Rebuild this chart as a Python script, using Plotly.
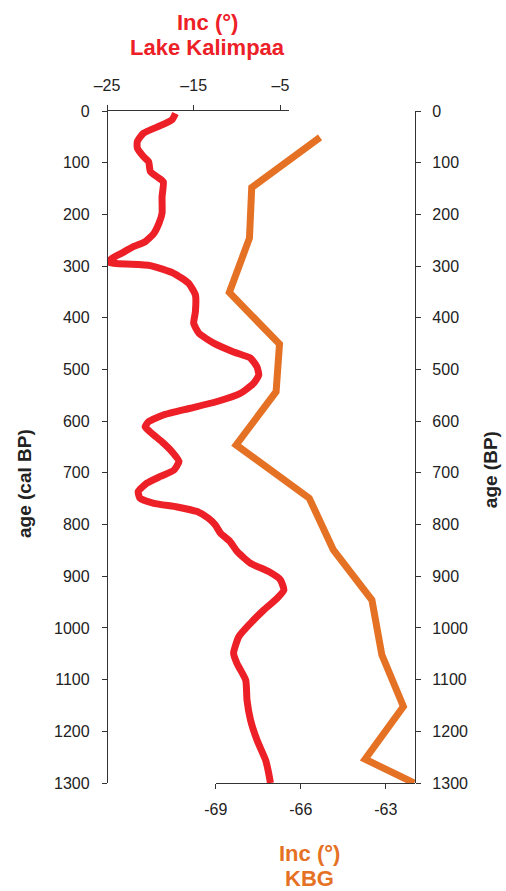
import plotly.graph_objects as go

# Lake Kalimpaa inclination (top axis) vs age (cal BP)
kal_age = [5, 17, 27, 43, 59, 72, 88, 98, 117, 130, 137, 166, 198, 217, 237, 253, 262, 275, 285, 293,
           299, 314, 333, 356, 388, 411, 430, 449, 466, 478, 495, 511, 527, 546, 562, 575, 588, 601,
           611, 624, 640, 659, 678, 695, 707, 720, 736, 749, 759, 766, 775, 788, 801, 817, 833, 852,
           875, 891, 907, 927, 943, 965, 991, 1017, 1049, 1069, 1101, 1140, 1178, 1217, 1256, 1281, 1300]
kal_inc = [-17.1, -17.5, -18.65, -20.8, -21.5, -21.5, -20.8, -20.2, -20.0, -19.0, -18.5, -18.65, -18.65,
           -19.0, -19.6, -20.6, -21.9, -23.3, -24.4, -24.8,
           -20.0, -17.3, -15.6, -14.8, -14.8, -15.0, -14.4, -12.7, -10.4, -8.45, -7.7, -7.5, -8.1, -9.6,
           -12.3, -15.4, -18.5, -20.2, -20.6, -19.8, -18.65, -17.5, -16.7, -17.3, -18.85, -20.4, -21.4,
           -21.2, -19.6, -16.9, -14.6, -13.3, -12.5, -11.9, -10.8, -10.0, -8.45, -6.35, -5.0, -4.6, -5.4,
           -6.9, -8.45, -9.8, -10.4, -10.0, -9.0, -8.85, -8.45, -7.7, -6.7, -6.35, -6.15]

# KBG inclination (bottom axis) vs age (BP)
kbg_age = [51, 148, 246, 351, 451, 543, 646, 749, 849, 946, 1052, 1152, 1254, 1300]
kbg_inc = [-65.32, -67.73, -67.81, -68.52, -66.75, -66.87, -68.28, -65.70, -64.85, -63.49, -63.14,
           -62.38, -63.73, -62.0]

age_ticks = list(range(0, 1301, 100))
top_tickvals = [-25, -15, -5]
top_ticktext = ["\u201325", "\u201315", "\u20135"]
bot_tickvals = [-69, -66, -63]
bot_ticktext = ["-69", "-66", "-63"]

assert len(kal_age) == len(kal_inc)
assert len(kbg_age) == len(kbg_inc)

RED = "#ED2027"
ORANGE = "#E57124"
AX = "#333333"
FONT = "Liberation Sans, Arial, sans-serif"

fig = go.Figure()
fig.add_trace(go.Scatter(x=kbg_inc, y=kbg_age, mode="lines", xaxis="x", yaxis="y2",
                         line=dict(color=ORANGE, width=7),
                         showlegend=False, hoverinfo="skip"))
fig.add_trace(go.Scatter(x=kal_inc, y=kal_age, mode="lines", xaxis="x2", yaxis="y",
                         line=dict(color=RED, width=7, shape="spline", smoothing=0.5),
                         showlegend=False, hoverinfo="skip"))

common = dict(showline=True, linecolor=AX, linewidth=1.3, ticks="outside", ticklen=5,
              tickwidth=1.3, tickcolor=AX, showgrid=False, zeroline=False,
              tickfont=dict(family=FONT, size=16, color="#222222"))

fig.update_layout(
    width=506, height=891,
    margin=dict(l=107, r=91, t=111, b=108),
    paper_bgcolor="white", plot_bgcolor="rgba(0,0,0,0)",
    font=dict(family=FONT),
    xaxis=dict(domain=[0.353, 1], range=[-69, -61.97], anchor="y", side="bottom",
               tickvals=bot_tickvals, ticktext=bot_ticktext, ticklabelstandoff=7, **common),
    xaxis2=dict(domain=[0, 0.59], range=[-25, -4.04], anchor="y", side="top",
                tickvals=top_tickvals, ticktext=top_ticktext, ticklabelstandoff=7, **common),
    yaxis=dict(range=[1300, 0], anchor="free", position=0, side="left",
               tickvals=age_ticks, ticklabelstandoff=9, **common),
    yaxis2=dict(range=[1300, 0], anchor="free", position=1, side="right", overlaying="y",
                tickvals=age_ticks, ticklabelstandoff=8, **common),
)

ann = [
    dict(text="<b>Inc (°)</b>", x=0.3247, y=1.1324, font=dict(size=22, color=RED)),
    dict(text="<b>Lake Kalimpaa</b>", x=0.3247, y=1.0952, font=dict(size=22, color=RED)),
    dict(text="<b>Inc (°)</b>", x=0.659, y=-0.1042, font=dict(size=22, color=ORANGE)),
    dict(text="<b>KBG</b>", x=0.659, y=-0.1414, font=dict(size=22, color=ORANGE)),
    dict(text="<b>age (cal BP)</b>", x=-0.266, y=0.445, textangle=-90,
         font=dict(size=19, color="#222222")),
    dict(text="<b>age (BP)</b>", x=1.2435, y=0.467, textangle=-90,
         font=dict(size=19, color="#222222")),
]
for a in ann:
    fig.add_annotation(xref="paper", yref="paper", xanchor="center", yanchor="middle",
                       showarrow=False, **a)

fig.write_html("out.html",
               config={"displayModeBar": False},
               post_script="document.body.style.margin='0';document.body.style.overflow='hidden';")
